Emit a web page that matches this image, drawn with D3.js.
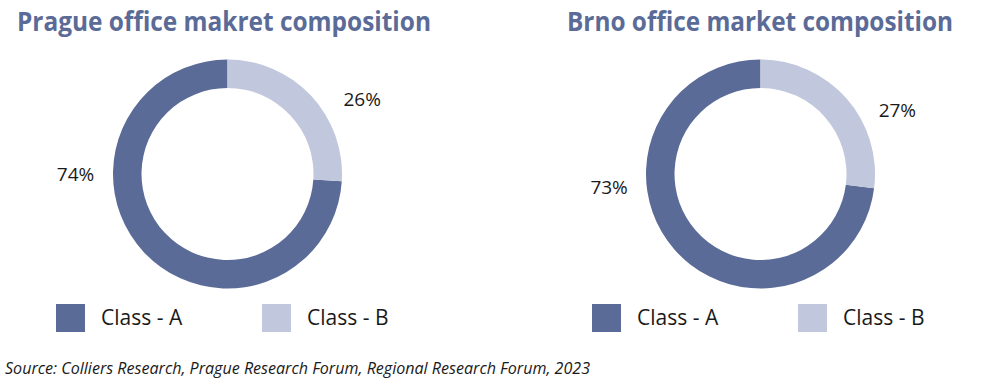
<!DOCTYPE html>
<html>
<head>
<meta charset="utf-8">
<script src="https://cdn.jsdelivr.net/npm/d3@7"></script>
<style>
  body { margin: 0; background: #fff; }
  svg { display: block; font-family: "Open Sans", sans-serif; }
</style>
</head>
<body>
<svg id="chart"></svg>
<script>
const classes = ["Class - A", "Class - B"];
const pragueValues = [74, 26];
const brnoValues = [73, 27];
const titles = ["Prague office makret composition", "Brno office market composition"];
const source = "Source: Colliers Research, Prague Research Forum, Regional Research Forum, 2023";

const width = 1000, height = 387;
const svg = d3.select("#chart").attr("width", width).attr("height", height);

const color = d3.scaleOrdinal().domain(classes).range(["#5a6b98", "#c1c7dd"]);

const outerRadius = 114.5, innerRadius = 86;

const charts = [
  { title: titles[0], values: pragueValues, cx: 227.5, titleX: 17, titleW: 414, labelAngles: [270, 61], labelR: [152, 154], legendX: 56 },
  { title: titles[1], values: brnoValues, cx: 760.5, titleX: 567, titleW: 386, labelAngles: [265, 65], labelR: [152, 151], legendX: 592 }
];

const pie = d3.pie().sort(null).value(d => d.value);
const arc = d3.arc().innerRadius(innerRadius).outerRadius(outerRadius);

charts.forEach(c => {
  const data = classes.map((k, i) => ({ key: k, value: c.values[i] }));
  // Class - B starts at 12 o'clock, clockwise
  const bShare = c.values[1] / d3.sum(c.values) * 2 * Math.PI;
  const arcs = pie.startAngle(-(2 * Math.PI - bShare)).endAngle(bShare)(data);

  svg.append("text")
    .attr("x", c.titleX)
    .attr("y", 31)
    .attr("fill", "#5b6b97")
    .attr("font-size", "26px")
    .attr("font-weight", "700")
    .attr("textLength", c.titleW)
    .attr("lengthAdjust", "spacingAndGlyphs")
    .text(c.title);

  const g = svg.append("g").attr("transform", "translate(" + c.cx + ",174)");

  g.selectAll("path")
    .data(arcs)
    .enter().append("path")
      .attr("d", arc)
      .attr("fill", d => color(d.data.key));

  g.selectAll("text.pct")
    .data(arcs)
    .enter().append("text")
      .attr("class", "pct")
      .attr("text-anchor", "middle")
      .attr("dy", "0.35em")
      .attr("font-size", "19px")
      .attr("fill", "#1a1a1a")
      .attr("x", (d, i) => c.labelR[i] * Math.sin(c.labelAngles[i] * Math.PI / 180))
      .attr("y", (d, i) => -c.labelR[i] * Math.cos(c.labelAngles[i] * Math.PI / 180))
      .text(d => d.data.value + "%");

  const legend = svg.append("g")
    .selectAll("g")
    .data(classes)
    .enter().append("g")
      .attr("transform", (d, i) => "translate(" + (c.legendX + i * 206) + ",304)");

  legend.append("rect")
    .attr("width", 29)
    .attr("height", 28)
    .attr("fill", color);

  legend.append("text")
    .attr("x", 45)
    .attr("y", 14)
    .attr("dy", "0.35em")
    .attr("font-size", "21px")
    .attr("fill", "#1a1a1a")
    .text(d => d);
});

svg.append("text")
  .attr("x", 5)
  .attr("y", 374)
  .attr("font-size", "16px")
  .attr("font-style", "italic")
  .attr("fill", "#1a1a1a")
  .attr("textLength", 585)
  .attr("lengthAdjust", "spacingAndGlyphs")
  .text(source);
</script>
</body>
</html>
